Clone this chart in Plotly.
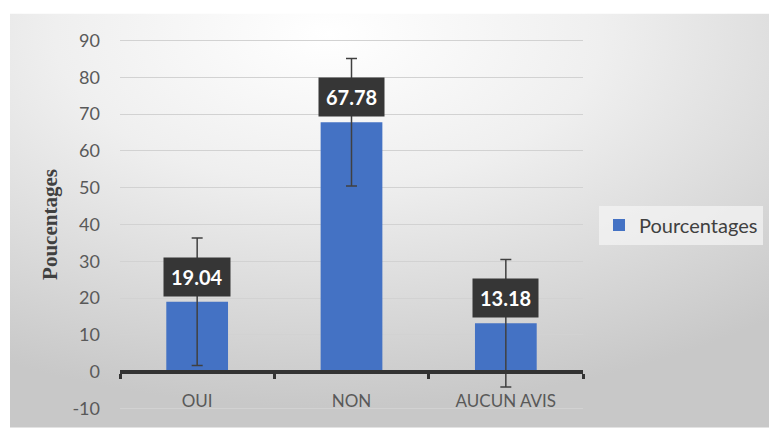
import plotly.graph_objects as go
import urllib.parse

categories = ["OUI", "NON", "AUCUN AVIS"]
values = [19.04, 67.78, 13.18]
errors = [17.3, 17.3, 17.3]
series_name = "Pourcentages"
y_title = "Poucentages"
y_ticks = [-10, 0, 10, 20, 30, 40, 50, 60, 70, 80, 90]
y_ticktext = ["-10", "0", "10", "20", "30", "40", "50", "60", "70", "80", "90"]

W, H = 769, 428
L, R = 120, 583          # plot area in px
T, B = 32.5, 416.3
YMIN, YMAX = -12, 92

def px_x(p):
    return (p - L) / (R - L)

def px_y(p):
    return (B - p) / (B - T)

svg = (
    "<svg xmlns='http://www.w3.org/2000/svg' width='759' height='415' preserveAspectRatio='none'>"
    "<defs><radialGradient id='g' cx='0.42' cy='0.05' r='0.9'>"
    "<stop offset='0' stop-color='#ffffff'/>"
    "<stop offset='0.4' stop-color='#efefef'/>"
    "<stop offset='1' stop-color='#c8c8c8'/>"
    "</radialGradient></defs>"
    "<rect width='759' height='415' fill='url(#g)'/></svg>"
)
svg_uri = "data:image/svg+xml;charset=utf-8," + urllib.parse.quote(svg)

fig = go.Figure()
fig.add_trace(go.Bar(
    x=categories, y=values, name=series_name,
    marker=dict(color="#4472c4", line=dict(width=0)),
    error_y=dict(type="data", array=errors, visible=True,
                 color="#404040", thickness=1.5, width=5.5),
    showlegend=True,
))

for c, v in zip(categories, values):
    fig.add_annotation(
        x=c, y=v, xref="x", yref="y", text=f"<b>{v:.2f}</b>",
        showarrow=False, yshift=25, bgcolor="#363636",
        borderpad=7, font=dict(family="Lato", size=20, color="white"),
    )

zero_pos = (0 - YMIN) / (YMAX - YMIN)

fig.update_layout(
    width=W, height=H,
    margin=dict(l=L, r=W - R, t=T, b=H - B, pad=0, autoexpand=False),
    paper_bgcolor="white", plot_bgcolor="rgba(0,0,0,0)",
    bargap=0.6,
    font=dict(family="Lato", color="#595959"),
    xaxis=dict(
        type="category", anchor="free", position=zero_pos, automargin=False,
        showline=True, linecolor="#333333", linewidth=4,
        ticks="outside", tickson="boundaries", ticklen=5, tickwidth=3, tickcolor="#333333",
        tickfont=dict(family="Lato", size=17, color="#595959"),
        ticklabelstandoff=13,
        showgrid=False, zeroline=False,
    ),
    yaxis=dict(
        range=[YMIN, YMAX], tickvals=y_ticks, ticktext=y_ticktext, automargin=False,
        showgrid=True, gridcolor="#d2d2d2", gridwidth=1.3,
        zeroline=False, showline=False, ticks="",
        tickfont=dict(family="Lato", size=18, color="#595959"),
        ticklabelstandoff=19,
        title=dict(text=f"<b>{y_title}</b>", standoff=9,
                   font=dict(family="Liberation Serif", size=21, color="#404040")),
    ),
    legend=dict(
        x=px_x(599), y=px_y(225), xanchor="left", yanchor="middle",
        bgcolor="rgba(245,245,245,0.7)", borderwidth=0,
        font=dict(family="Lato", size=20, color="#404040"),
        itemwidth=30,
    ),
    images=[dict(
        source=svg_uri, xref="paper", yref="paper",
        x=px_x(10), y=px_y(13), sizex=(W - 10) / (R - L), sizey=(H - 13) / (B - T),
        xanchor="left", yanchor="top", sizing="stretch", layer="below",
    )],
)

fig.write_html("out.html", config={"displayModeBar": False},
               post_script="document.body.style.margin='0';document.body.style.overflow='hidden';")
